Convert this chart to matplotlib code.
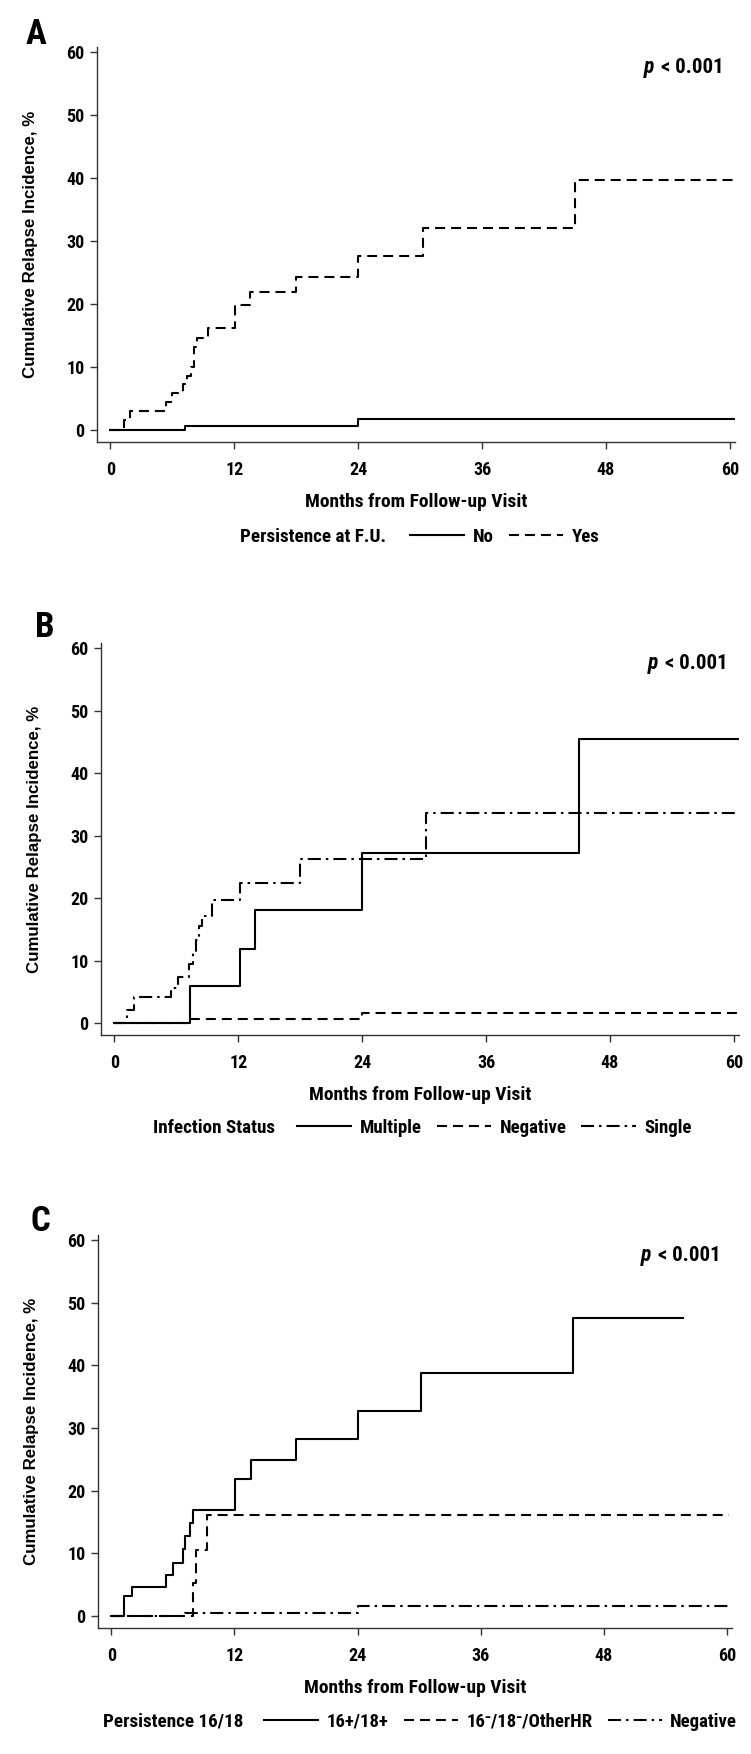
import numpy as np
import matplotlib
matplotlib.use("Agg")
import matplotlib.pyplot as plt
from matplotlib.lines import Line2D

# ---- data (months, cumulative relapse incidence %) ----
# Panel A: persistence at follow-up
a_no_t = [0, 7.2, 24.0]
a_no_v = [0, 0.6, 1.7]
a_yes_t = [0, 1.3, 1.9, 5.4, 6.0, 7.0, 7.4, 7.8, 8.1, 8.4, 9.5, 12.1, 13.5, 18.0, 24.0, 30.3, 45.0]
a_yes_v = [0, 1.6, 3.1, 4.5, 5.8, 7.3, 8.6, 10.0, 13.2, 14.6, 16.2, 19.8, 21.9, 24.3, 27.6, 32.1, 39.7]

# Panel B: infection status
b_mult_t = [0, 7.3, 12.2, 13.6, 24.0, 45.0]
b_mult_v = [0, 5.9, 11.8, 18.1, 27.2, 45.4]
b_neg_t = [0, 7.3, 24.0]
b_neg_v = [0, 0.6, 1.6]
b_single_t = [0, 1.2, 1.9, 5.5, 6.2, 7.2, 7.6, 7.9, 8.2, 8.5, 9.5, 12.2, 18.0, 30.2]
b_single_v = [0, 2.1, 4.1, 5.6, 7.3, 9.4, 11.2, 13.3, 15.5, 17.1, 19.7, 22.4, 26.2, 33.6]

# Panel C: persistence 16/18
c_pos_t = [0, 1.26, 1.98, 5.3, 6.0, 7.0, 7.2, 7.7, 8.0, 12.1, 13.6, 18.0, 24.0, 30.2, 45.0]
c_pos_v = [0, 3.2, 4.7, 6.6, 8.5, 10.7, 12.7, 14.9, 17.0, 21.8, 24.9, 28.2, 32.7, 38.8, 47.6]
c_oth_t = [0, 8.0, 8.3, 9.3]
c_oth_v = [0, 5.3, 10.6, 16.1]
c_neg_t = [0, 7.2, 24.0]
c_neg_v = [0, 0.5, 1.6]

x_ticks = [0, 12, 24, 36, 48, 60]
y_ticks = [0, 10, 20, 30, 40, 50, 60]

NARROW = ['Roboto Condensed', 'DejaVu Sans']
WIDE = ['Liberation Sans', 'DejaVu Sans']
STRETCH = 'condensed'

LW = 1.5
SOLID = '-'
DASH = (0, (7.2 / LW, 4.3 / LW))
DASHDOT = (0, (9.4 / LW, 3.6 / LW, 1.8 / LW, 3.6 / LW))
SPINE = '#333333'

fig = plt.figure(figsize=(7.51, 17.54), dpi=100)
H = 1754.0
W = 751.0


def step_line(ax, t, v, end, ls):
    tt = list(t) + [end]
    vv = list(v) + [v[-1]]
    ax.step(tt, vv, where='post', color='black', lw=LW, linestyle=ls)


def style_axes(ax, letter, letter_xy):
    ax.set_xlim(-1.3, 60.5)
    ax.set_ylim(-1.9, 60.8)
    for s in ['top', 'right']:
        ax.spines[s].set_visible(False)
    for s in ['left', 'bottom']:
        ax.spines[s].set_color(SPINE)
        ax.spines[s].set_linewidth(1.0)
    ax.set_xticks(x_ticks)
    ax.set_yticks(y_ticks)
    ax.tick_params(direction='out', length=5, width=1, color=SPINE)
    ax.tick_params(axis='x', pad=9)
    ax.tick_params(axis='y', pad=4)
    for lab in ax.get_xticklabels() + ax.get_yticklabels():
        lab.set_family(NARROW)
        lab.set_stretch(STRETCH)
        lab.set_fontweight('bold')
        lab.set_fontsize(13)
    ax.set_xlabel('Months from Follow-up Visit', family=NARROW, stretch=STRETCH,
                  fontweight='bold', fontsize=14)
    ax.xaxis.set_label_coords(0.5, -0.152)
    ax.xaxis.label.set_va('center')
    ax.set_ylabel('Cumulative Relapse Incidence, %', family=WIDE, fontweight='bold', fontsize=12.2)
    ax.yaxis.set_label_coords(-0.105, 0.5)
    ax.yaxis.label.set_va('center')
    t1 = ax.text(59.4, 57.6, '< 0.001', family=NARROW, stretch=STRETCH, fontweight='bold',
                 fontsize=15, ha='right', va='center')
    ax.annotate('p', xy=(0, 0.5), xycoords=t1, xytext=(-5, 0), textcoords='offset points',
                family=NARROW, stretch=STRETCH, fontweight='bold', style='italic',
                fontsize=15.5, ha='right', va='center')
    fig.text(letter_xy[0], letter_xy[1], letter, family=NARROW, stretch=STRETCH,
             fontweight='bold', fontsize=25, ha='left', va='bottom')


def add_legend(ax, title, handles, labels, x_title_end, x_handle, y):
    fig.text(x_title_end / W, 1 - y / H, title, family=NARROW, stretch=STRETCH,
             fontweight='bold', fontsize=13.8, ha='right', va='center')
    leg = ax.legend(handles, labels, ncol=len(labels),
                    loc='center left', bbox_to_anchor=(x_handle / W, 1 - y / H),
                    bbox_transform=fig.transFigure, frameon=False, borderpad=0,
                    borderaxespad=0, handlelength=2.9, handletextpad=0.45,
                    columnspacing=0.8,
                    prop={'family': NARROW, 'stretch': STRETCH, 'weight': 'bold', 'size': 13.5})
    return leg


def proxy(ls):
    return Line2D([], [], color='black', lw=LW, linestyle=ls)


# panel A
axA = fig.add_axes([97 / W, 1 - 442 / H, (735 - 97) / W, (442 - 47) / H])
step_line(axA, a_no_t, a_no_v, 60.6, SOLID)
step_line(axA, a_yes_t, a_yes_v, 60.6, DASH)
style_axes(axA, 'A', (26 / W, 1 - 51 / H))
add_legend(axA, 'Persistence at F.U.', [proxy(SOLID), proxy(DASH)], ['No', 'Yes'],
           386, 410, 537)

# panel B
axB = fig.add_axes([101 / W, 1 - 1035 / H, (739 - 101) / W, (1035 - 643) / H])
step_line(axB, b_mult_t, b_mult_v, 60.6, SOLID)
step_line(axB, b_neg_t, b_neg_v, 60.6, DASH)
step_line(axB, b_single_t, b_single_v, 60.6, DASHDOT)
style_axes(axB, 'B', (35 / W, 1 - 644 / H))
add_legend(axB, 'Infection Status', [proxy(SOLID), proxy(DASH), proxy(DASHDOT)],
           ['Multiple', 'Negative', 'Single'], 275, 297, 1128)

# panel C
axC = fig.add_axes([98 / W, 1 - 1628 / H, (732 - 98) / W, (1628 - 1235) / H])
step_line(axC, c_pos_t, c_pos_v, 55.7, SOLID)
step_line(axC, c_oth_t, c_oth_v, 60.2, DASH)
step_line(axC, c_neg_t, c_neg_v, 60.6, DASHDOT)
style_axes(axC, 'C', (31 / W, 1 - 1238 / H))
add_legend(axC, 'Persistence 16/18', [proxy(SOLID), proxy(DASH), proxy(DASHDOT)],
           ['16+/18+', '16\u207b/18\u207b/OtherHR', 'Negative'], 243, 264, 1722)

fig.savefig('out.png', dpi=100, facecolor='white')
